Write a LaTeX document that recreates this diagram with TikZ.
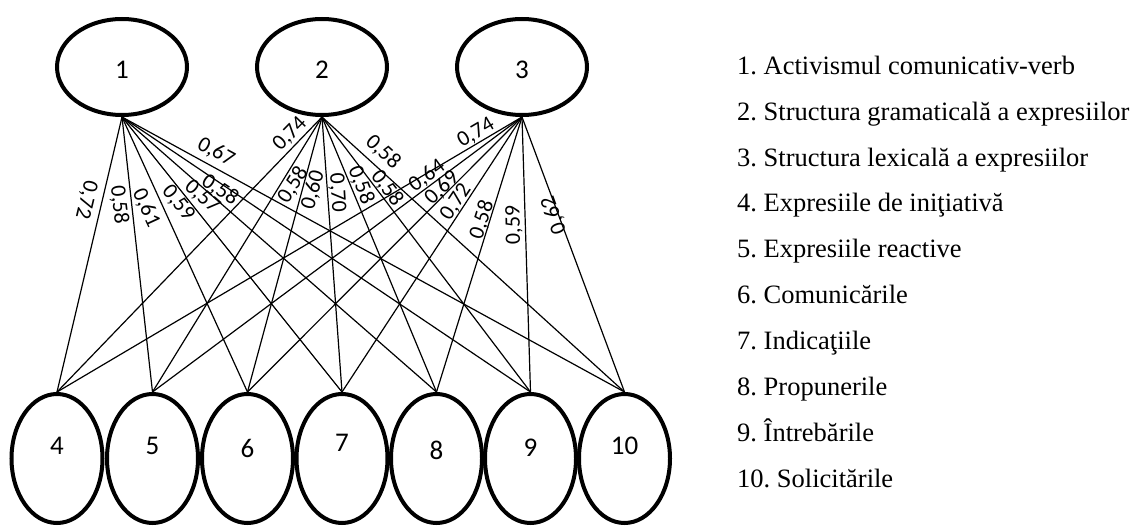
\documentclass[tikz,border=0pt]{standalone}
\usepackage{fontspec}
\setmainfont{Liberation Serif}
\newfontfamily\calib{Carlito}
\usetikzlibrary{shapes.geometric}
\begin{document}
\frenchspacing
\begin{tikzpicture}[x=1pt,y=-1pt,
  topell/.style={ellipse, draw, line width=4pt, minimum width=130pt, minimum height=96pt, inner sep=0pt},
  botell/.style={ellipse, draw, line width=4pt, minimum width=91pt, minimum height=129pt, inner sep=0pt},
  num/.style={font=\calib\fontsize{27}{27}\selectfont, inner sep=0pt},
  conn/.style={line width=1.2pt},
  val/.style={font=\calib\fontsize{22}{22}\selectfont, inner sep=0pt},
  leg/.style={anchor=base west, font=\fontsize{26.5}{30}\selectfont, inner sep=0pt}
]
\useasboundingbox (0,0) rectangle (1133,527);
% top ellipses
\node[topell] (t1) at (122,67) {};
\node[topell] (t2) at (322,67) {};
\node[topell] (t3) at (522,67) {};
\node[num] (n1) at (122,70) {1};
\node[num] (n2) at (322,70) {2};
\node[num] (n3) at (522,70) {3};
% bottom ellipses
\node[botell] (b4) at (57,458.5) {};
\node[botell] (b5) at (152.5,458.5) {};
\node[botell] (b6) at (247.5,458.5) {};
\node[botell] (b7) at (342,458.5) {};
\node[botell] (b8) at (436.5,458.5) {};
\node[botell] (b9) at (530.5,458.5) {};
\node[botell] (b10) at (624.5,458.5) {};
\node[num] (n4) at (57,446) {4};
\node[num] (n5) at (152.5,446) {5};
\node[num] (n6) at (247.5,448) {6};
\node[num] (n7) at (342,443) {7};
\node[num] (n8) at (436.5,450) {8};
\node[num] (n9) at (530.5,448) {9};
\node[num] (n10) at (624.5,446) {10};
% connectors
\foreach \t in {1,2,3}{
  \foreach \b in {4,5,6,7,8,9,10}{
    \draw[conn] (t\t.south) -- (b\b.north);
  }
}
% values from 1
\node[val, rotate=-103.4] (l14) at (86,200) {0,72};
\node[val, rotate=-83.6] (l15) at (119,205) {0,58};
\node[val, rotate=-65.3] (l16) at (146,208) {0,61};
\node[val, rotate=-51.1] (l17) at (178,203) {0,59};
\node[val, rotate=-41.0] (l18) at (202,197) {0,57};
\node[val, rotate=-33.8] (l19) at (220,190) {0,58};
\node[val, rotate=-28.5] (l110) at (216,152) {0,67};
% values from 2
\node[val, rotate=45.7] (l24) at (290,134) {0,74};
\node[val, rotate=57.9] (l25) at (293,185) {0,58};
\node[val, rotate=74.3] (l26) at (313,190) {0,60};
\node[val, rotate=-86.5] (l27) at (337,193) {0,70};
\node[val, rotate=-67.9] (l28) at (361,185) {0,58};
\node[val, rotate=-53.2] (l29) at (387,188) {0,58};
\node[val, rotate=-42.6] (l210) at (383,152) {0,58};
% values from 3
\node[val, rotate=30.3] (l34) at (476,133) {0,74};
\node[val, rotate=36.3] (l35) at (427,176) {0,64};
\node[val, rotate=44.6] (l36) at (442,188) {0,69};
\node[val, rotate=56.3] (l37) at (456,202) {0,72};
\node[val, rotate=72.1] (l38) at (482,220) {0,58};
\node[val, rotate=91.1] (l39) at (514,225) {0,59};
\node[val, rotate=110] (l310) at (554,215) {0,62};
% legend
\node[leg] (g1) at (737,74.3) {1. Activismul comunicativ-verb};
\node[leg] (g2) at (737,120.2) {2. Structura gramaticală a expresiilor};
\node[leg] (g3) at (737,166.0) {3. Structura lexicală a expresiilor};
\node[leg] (g4) at (737,211.9) {4. Expresiile de iniţiativă};
\node[leg] (g5) at (737,257.7) {5. Expresiile reactive};
\node[leg] (g6) at (737,303.6) {6. Comunicările};
\node[leg] (g7) at (737,349.5) {7. Indicaţiile};
\node[leg] (g8) at (737,395.3) {8. Propunerile};
\node[leg] (g9) at (737,441.2) {9. Întrebările};
\node[leg] (g10) at (737,487.0) {10. Solicitările};
\end{tikzpicture}
\end{document}
